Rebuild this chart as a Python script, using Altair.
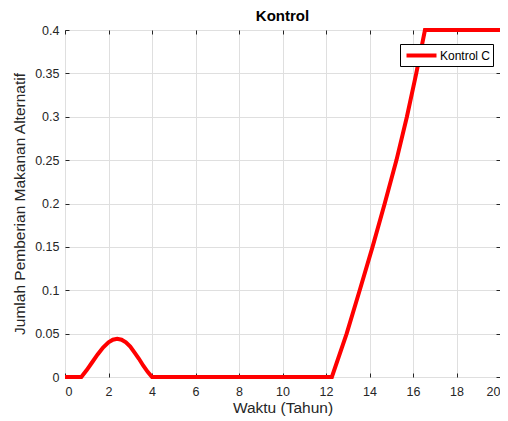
import altair as alt
import pandas as pd

# Data
t_vals = [0, 0.75, 1.0, 1.25, 1.5, 1.75, 2.0, 2.2, 2.4, 2.6, 2.8, 3.0, 3.2, 3.4, 3.6, 3.8, 4.0,
          12.27, 12.95, 13.55, 14.14, 14.7, 15.24, 15.72, 16.15, 16.55, 20]
c_vals = [0, 0, 0.008, 0.017, 0.026, 0.034, 0.040, 0.043, 0.044, 0.043, 0.040, 0.035, 0.028, 0.021, 0.013, 0.006, 0,
          0, 0.05, 0.10, 0.15, 0.20, 0.25, 0.30, 0.35, 0.40, 0.40]
series_name = "Kontrol C"
x_ticks = [0, 2, 4, 6, 8, 10, 12, 14, 16, 18, 20]
y_ticks = [0, 0.05, 0.1, 0.15, 0.2, 0.25, 0.3, 0.35, 0.4]

df = pd.DataFrame({"t": t_vals, "c": c_vals, "s": [series_name] * len(t_vals)})

FONT = "Liberation Sans"
AX = "#262626"
GRID = "#dfdfdf"

xs = alt.Scale(domain=[0, 20], nice=False)
ys = alt.Scale(domain=[0, 0.4], nice=False)

main = alt.Chart(df).mark_line(strokeWidth=4, clip=False).encode(
    x=alt.X("t:Q", scale=xs, title="Waktu (Tahun)",
            axis=alt.Axis(values=x_ticks, grid=True, gridColor=GRID, ticks=False,
                          domain=False, labelPadding=8, labelFontSize=12.5, labelColor=AX,
                          titleFontSize=15.5, titleFontWeight="normal", titleColor=AX,
                          titlePadding=3, labelFont=FONT, titleFont=FONT)),
    y=alt.Y("c:Q", scale=ys, title="Jumlah Pemberian Makanan Alternatif",
            axis=alt.Axis(values=y_ticks, grid=True, gridColor=GRID, ticks=False,
                          domain=False, labelPadding=6, labelFontSize=12.5, labelColor=AX,
                          format="~g", titleFontSize=15.5, titleFontWeight="normal",
                          titleColor=AX, titlePadding=7, labelFont=FONT, titleFont=FONT)),
    color=alt.Color("s:N", scale=alt.Scale(range=["#ff0000"]),
                    legend=alt.Legend(title=None, orient="none", legendX=335, legendY=14,
                                      symbolType="M-2,0H2", symbolSize=225,
                                      symbolStrokeWidth=4, symbolOffset=10,
                                      labelFontSize=12, labelOffset=9,
                                      labelFont=FONT, labelColor="#000000",
                                      strokeColor="#000000", fillColor="#ffffff",
                                      padding=2)),
)

def tick_layer(xo, yo):
    return alt.Chart(df).mark_line(opacity=0).encode(
        x=alt.X("t:Q", scale=xs, axis=alt.Axis(orient=xo, values=x_ticks, labels=False,
                                                 grid=False, domain=False, tickSize=4,
                                                 tickColor=AX, offset=-4, title=None)),
        y=alt.Y("c:Q", scale=ys, axis=alt.Axis(orient=yo, values=y_ticks, labels=False,
                                                 grid=False, domain=False, tickSize=4,
                                                 tickColor=AX, offset=-4, title=None)),
    )

chart = alt.layer(main, tick_layer("bottom", "left"), tick_layer("top", "right")).resolve_axis(
    x="independent", y="independent"
).properties(
    width=435, height=347,
    autosize=alt.AutoSizeParams(type="none"),
    padding={"left": 57, "top": 22, "right": 0, "bottom": 44},
    title=alt.TitleParams("Kontrol", fontSize=15, fontWeight="bold", font=FONT,
                          color="#000000", offset=-2, anchor="middle"),
).configure_view(stroke=AX, strokeWidth=1)

chart.save("out.html", embed_options={"renderer": "svg", "actions": False})
